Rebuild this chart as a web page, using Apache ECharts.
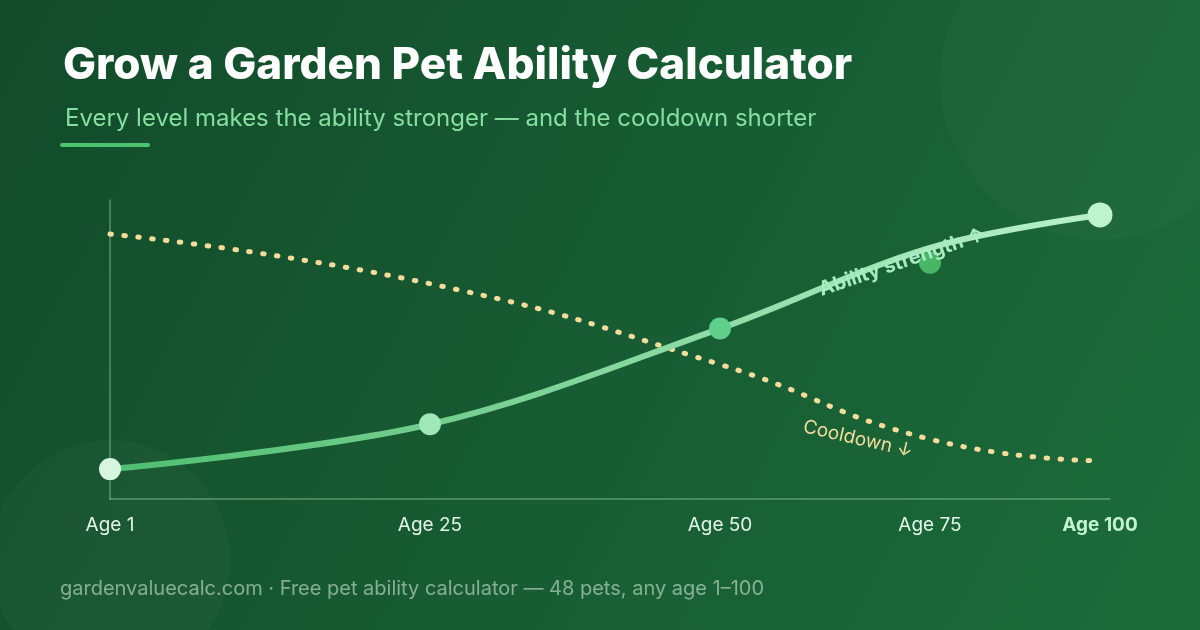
<!DOCTYPE html>
<html>
<head>
    <meta charset="UTF-8">
    <title>Grow a Garden Pet Ability Calculator</title>
    <script src="https://cdn.jsdelivr.net/npm/echarts@6/dist/echarts.min.js"></script>
    <style>
        html, body { margin: 0; padding: 0; background: #14532d; }
        #chart { width: 1200px; height: 630px; }
    </style>
</head>
<body>
<div id="chart"></div>
<script>
    // tick labels and where each age sits along the (hand-spaced) x axis
    var ageLabels = ['Age 1', 'Age 25', 'Age 50', 'Age 75', 'Age 100'];
    var agePos = [0, 32, 61, 82, 99];

    // ability strength curve (0-100 scale) and its marker dots
    var strengthLine = [10, 25, 57, 84, 95];
    var strengthDots = [10, 25, 57, 79, 95];
    var dotColors = ['#d7f6df', '#9fe7b6', '#5fd089', '#47b766', '#bdf3cf'];
    var dotSizes = [22, 22, 22, 22, 25];

    // cooldown curve (0-100 scale)
    var cooldown = [88.6, 72, 45, 20, 12.8];
    var cooldownPos = [0, 32, 61, 82, 98.5];

    var font = 'Inter, "Noto Sans", sans-serif';

    function pairs(xs, ys) {
        return xs.map(function (x, i) { return [x, ys[i]]; });
    }

    var myChart = echarts.init(document.getElementById('chart'));
    var option = {
        backgroundColor: {
            type: 'linear', x: 0, y: 0, x2: 1, y2: 1,
            colorStops: [
                { offset: 0, color: '#124b2a' },
                { offset: 1, color: '#1c6c3b' }
            ]
        },
        animation: false,
        textStyle: { fontFamily: font },
        title: [{
            text: 'Grow a Garden Pet Ability Calculator',
            left: 58, top: 39,
            textStyle: { color: '#ffffff', fontSize: 44, fontWeight: 800, fontFamily: font }
        }, {
            text: 'Every level makes the ability stronger — and the cooldown shorter',
            left: 60, top: 102,
            textStyle: { color: '#86dea0', fontSize: 24, fontWeight: 400, fontFamily: font }
        }],
        graphic: [
            // decorative circles
            { type: 'circle', shape: { cx: 1100, cy: 80, r: 160 }, style: { fill: 'rgba(255,255,255,0.024)' }, z: -10 },
            { type: 'circle', shape: { cx: 110, cy: 560, r: 120 }, style: { fill: 'rgba(255,255,255,0.028)' }, z: -10 },
            // accent bar
            { type: 'rect', shape: { x: 60, y: 143, width: 90, height: 4, r: 2 }, style: { fill: '#4cc46e' } },
            // line labels
            {
                type: 'text', x: 902, y: 262, rotation: 19 * Math.PI / 180, z: 100,
                style: {
                    text: 'Ability strength ↑', fill: '#a9ecbf', font: '700 20px ' + font,
                    align: 'center', verticalAlign: 'middle'
                }
            },
            {
                type: 'text', x: 858, y: 439, rotation: -13 * Math.PI / 180, z: 100,
                style: {
                    text: 'Cooldown ↓', fill: '#f3dc9c', font: '400 19px ' + font,
                    align: 'center', verticalAlign: 'middle'
                }
            },
            // footer
            {
                type: 'text', left: 60, top: 579,
                style: {
                    text: 'gardenvaluecalc.com · Free pet ability calculator — 48 pets, any age 1–100',
                    fill: 'rgba(205,230,212,0.6)', font: '400 20px ' + font
                }
            }
        ],
        grid: { left: 110, right: 90, top: 200, bottom: 131 },
        xAxis: {
            type: 'value', min: 0, max: 100,
            axisLine: { show: true, lineStyle: { color: 'rgba(170,225,185,0.45)', width: 1.5 } },
            axisTick: { show: false },
            splitLine: { show: false },
            axisLabel: {
                customValues: agePos,
                margin: 17,
                color: '#e2f4e7', fontSize: 19, fontFamily: font,
                formatter: function (v) {
                    var i = agePos.indexOf(v);
                    if (i === ageLabels.length - 1) return '{b|' + ageLabels[i] + '}';
                    return i >= 0 ? ageLabels[i] : '';
                },
                rich: { b: { color: '#c2f3d1', fontWeight: 700, fontSize: 19, fontFamily: font } }
            }
        },
        yAxis: {
            type: 'value', min: 0, max: 100,
            axisLine: { show: true, lineStyle: { color: 'rgba(170,225,185,0.45)', width: 1.5 } },
            axisTick: { show: false },
            axisLabel: { show: false },
            splitLine: { show: false }
        },
        series: [{
            name: 'Cooldown',
            type: 'line',
            data: pairs(cooldownPos, cooldown),
            smooth: 0.5,
            symbol: 'none',
            lineStyle: { color: '#f3dc9c', width: 5, type: [1.5, 12.5], cap: 'round' },
            z: 2
        }, {
            name: 'Ability strength',
            type: 'line',
            data: pairs(agePos, strengthLine),
            smooth: 0.35,
            symbol: 'none',
            lineStyle: {
                width: 6,
                color: {
                    type: 'linear', x: 0, y: 0, x2: 1, y2: 0,
                    colorStops: [
                        { offset: 0, color: '#4fbd6f' },
                        { offset: 1, color: '#b9f1cb' }
                    ]
                }
            },
            z: 3
        }, {
            name: 'Markers',
            type: 'scatter',
            data: agePos.map(function (x, i) {
                return {
                    value: [x, strengthDots[i]],
                    symbolSize: dotSizes[i],
                    itemStyle: { color: dotColors[i], opacity: 1 }
                };
            }),
            z: 4
        }]
    };

    myChart.setOption(option);
</script>
</body>
</html>
